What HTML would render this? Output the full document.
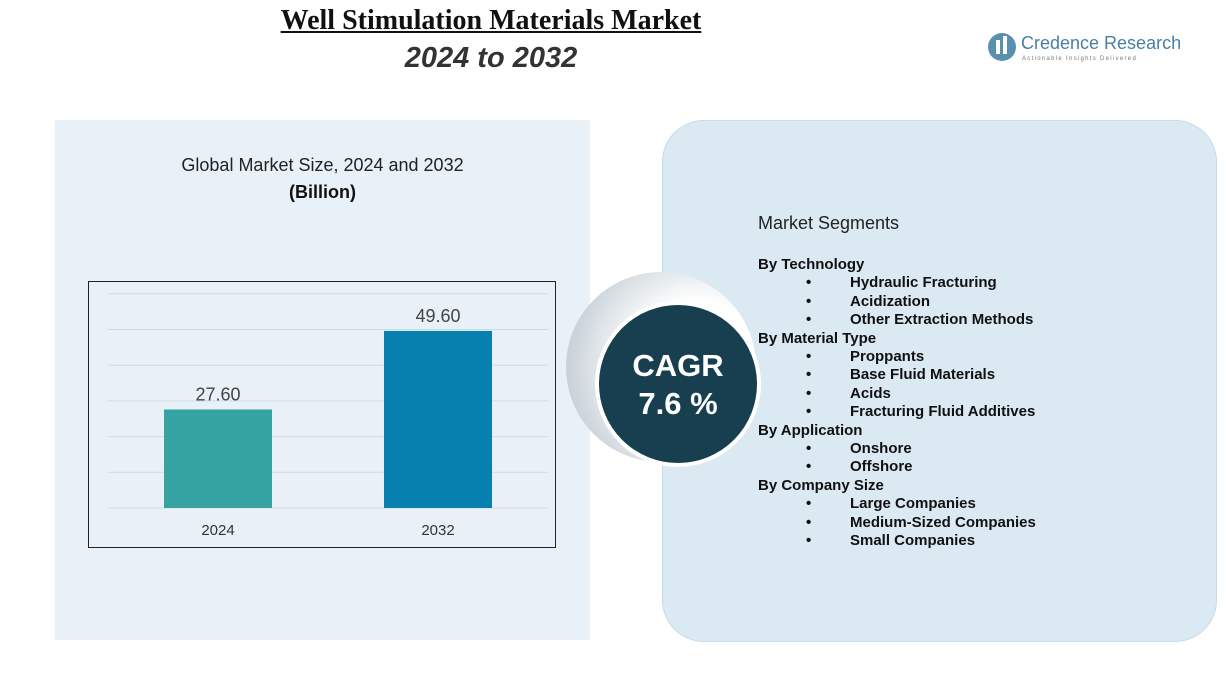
<!DOCTYPE html>
<html><head><meta charset="utf-8"><style>
body{margin:0;width:1226px;height:682px;overflow:hidden;background:#fff;font-family:"Liberation Sans",sans-serif;position:relative}
.abs{position:absolute}
.seg{font-size:15px;font-weight:bold;color:#111;line-height:18.4px}
</style></head><body>
<div class="abs" style="left:55px;top:120px;width:535px;height:520px;background:#e8f1f8"></div>
<div class="abs" style="left:662px;top:120px;width:553px;height:520px;background:#dbe9f3;border-radius:42px;border:1px solid #c5dbe9"></div>
<div class="abs" style="left:0;width:982px;top:5px;text-align:center;font-family:'Liberation Serif',serif;font-weight:bold;font-size:28px;text-decoration:underline;color:#111">Well Stimulation Materials Market</div>
<div class="abs" style="left:0;width:982px;top:42px;text-align:center;font-weight:bold;font-style:italic;font-size:29px;color:#333">2024 to 2032</div>
<div class="abs" style="left:986px;top:30px;">
<svg width="200" height="36"><circle cx="16" cy="17" r="14" fill="#5b8fb0"/><rect x="10" y="10" width="4" height="14" fill="#fff"/><rect x="17" y="6" width="4" height="18" fill="#fff"/><text x="35" y="19" font-size="18" fill="#4a7ea3" font-family="Liberation Sans">Credence Research</text><text x="36" y="30" font-size="6" fill="#777" letter-spacing="1.3">Actionable Insights Delivered</text></svg></div>
<div class="abs" style="left:140px;width:365px;top:155px;text-align:center;font-size:18px;color:#222">Global Market Size, 2024 and 2032</div>
<div class="abs" style="left:140px;width:365px;top:182px;text-align:center;font-size:18px;font-weight:bold;color:#111">(Billion)</div>
<svg class="abs" style="left:0;top:0" width="600" height="600" id="chart"></svg>
<div class="abs" style="left:566px;top:272px;width:190px;height:190px;border-radius:50%;background:radial-gradient(circle at 70% 50%,#fff 40%,#c9d2d8 80%,#e5eaee 100%)"></div>
<div class="abs" style="left:595px;top:301px;width:158px;height:158px;border-radius:50%;background:#173f4f;border:4px solid #fff;color:#fff;text-align:center;font-weight:bold;font-size:31px;line-height:38px;box-sizing:content-box">
<div style="padding-top:42px">CAGR</div><div>7.6 %</div></div>
<div class="abs" style="left:758px;top:213px;font-size:18px;color:#222">Market Segments</div>
<div class="abs seg" style="left:758px;top:256px" id="segs"></div>
<script>
const categories=["2024","2032"];
const values=[27.6,49.6];
const labels=["27.60","49.60"];
const ticks=[0,10,20,30,40,50,60];
const colors=["#34a3a2","#0780b0"];
const ns="http://www.w3.org/2000/svg";
const svg=document.getElementById('chart');
const y=v=>508-v*3.57;
const xs=[164,384],bw=108;
function mk(t,a){const e=document.createElementNS(ns,t);for(const k in a)e.setAttribute(k,a[k]);svg.appendChild(e);return e;}
const fr=mk('rect',{x:88.5,y:281.5,width:467,height:266,fill:'none',stroke:'#222','stroke-width':1});


ticks.forEach(t=>{const l=mk('line',{x1:108,x2:548,y1:y(t),y2:y(t),stroke:'#cfdbe3','stroke-width':1});

});
values.forEach((v,i)=>{
const r=mk('rect',{x:xs[i],y:y(v),width:bw,height:y(0)-y(v),fill:colors[i]});


const t=mk('text',{x:xs[i]+bw/2,y:y(v)-9,'text-anchor':'middle','font-size':18,fill:'#444'});t.textContent=labels[i];


const c=mk('text',{x:xs[i]+bw/2,y:535,'text-anchor':'middle','font-size':15,fill:'#333'});c.textContent=categories[i];


});
const segs=[["By Technology",["Hydraulic Fracturing","Acidization","Other Extraction Methods"]],["By Material Type",["Proppants","Base Fluid Materials","Acids","Fracturing Fluid Additives"]],["By Application",["Onshore","Offshore"]],["By Company Size",["Large Companies","Medium-Sized Companies","Small Companies"]]];
const box=document.getElementById('segs');
segs.forEach(([h,items])=>{const d=document.createElement('div');d.textContent=h;


box.appendChild(d);
items.forEach(it=>{const e=document.createElement('div');e.innerHTML='<span style="display:inline-block;width:92px;padding-left:48px;box-sizing:border-box">•</span>'+it;


box.appendChild(e);});});
</script>
</body></html>
